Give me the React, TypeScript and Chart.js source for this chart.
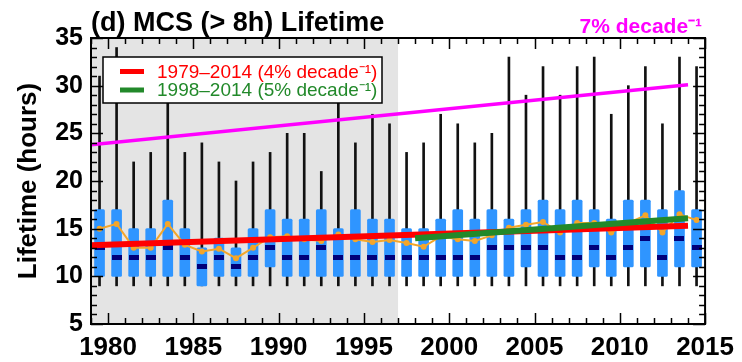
import React, { useEffect, useRef } from 'react';
import { Chart, registerables } from 'chart.js';

Chart.register(...registerables);

// ---- data ----
const years = [1979, 1980, 1981, 1982, 1983, 1984, 1985, 1986, 1987, 1988, 1989, 1990, 1991, 1992, 1993, 1994, 1995, 1996,
  1997, 1998, 1999, 2000, 2001, 2002, 2003, 2004, 2005, 2006, 2007, 2008, 2009, 2010, 2011, 2012, 2013, 2014];
const whiskerLow = [9, 9, 9, 9, 9, 9, 9, 9, 9, 9, 9, 9, 9, 9, 9, 9, 9, 9,
  9, 9, 9, 9, 9, 9, 9, 9, 9, 9, 9, 9, 9, 9, 9, 9, 9, 9];
const whiskerHigh = [31, 34, 22, 23, 31, 23, 24, 22, 20, 22, 23, 25, 25, 21, 31, 24, 27, 26,
  23, 24, 27, 26, 24, 25, 33, 29, 32, 29, 32, 33, 27, 30, 32, 26, 33, 32];
const boxLow = [10, 10, 10, 10, 10, 10, 9, 10, 10, 10, 11, 10, 10, 10, 10, 10, 10, 10,
  10, 10, 10, 10, 10, 10, 10, 11, 10, 10, 10, 11, 10, 11, 11, 10, 11, 11];
const boxHigh = [17, 17, 15, 15, 18, 15, 13, 14, 13, 15, 17, 16, 16, 17, 15, 17, 16, 16,
  15, 15, 16, 17, 16, 17, 16, 17, 18, 17, 18, 17, 16, 18, 18, 17, 19, 17];
const medians = [13, 12, 12, 12, 13, 12, 11, 12, 11, 12, 13, 12, 12, 13, 12, 12, 12, 12,
  12, 12, 12, 12, 12, 13, 13, 13, 13, 12, 12, 13, 12, 13, 14, 12, 14, 13];
const means = [15.0, 15.5, 13.0, 13.0, 15.5, 13.3, 12.6, 12.9, 11.9, 13.0, 14.1, 14.2, 13.9, 13.7, 14.4, 13.9, 13.6, 13.8,
  13.5, 13.1, 14.2, 13.9, 13.7, 14.3, 15.1, 15.4, 15.7, 14.6, 15.6, 15.6, 14.6, 15.6, 16.4, 14.6, 16.5, 15.9];

const trendAllYears = [1979, 2014];
const trendAllValues = [13.25, 15.3];
const trendRecentYears = [1998, 2014];
const trendRecentValues = [14.0, 16.1];
const upperTrendYears = [1979, 2014];
const upperTrendValues = [23.8, 30.1];
const shadeYears = [1979, 1997];

const legendLabels = ['1979\u20132014 (4% decade\u207B\u00B9)', '1998\u20132014 (5% decade\u207B\u00B9)'];
const upperTrendLabel = '7% decade\u207B\u00B9';
const titleText = '(d) MCS (> 8h) Lifetime';
const yAxisTitle = 'Lifetime (hours)';

const xTickValues = [1980, 1985, 1990, 1995, 2000, 2005, 2010, 2015];
const xTickLabels = ['1980', '1985', '1990', '1995', '2000', '2005', '2010', '2015'];
const yTickValues = [5, 10, 15, 20, 25, 30, 35];
const yTickLabels = ['5', '10', '15', '20', '25', '30', '35'];

const X_MIN = 1979;
const X_MAX = 2015;
const Y_MIN = 5;
const Y_MAX = 35;
const BOX_CENTER = 0.5; // each year's box sits in the middle of its year

const FONT = '"Liberation Sans", Arial, Helvetica, sans-serif';
const C_BOX = '#2f95ff';
const C_MED = '#00007a';
const C_MEAN = '#f4a62a';
const C_RED = '#ff0000';
const C_GREEN = '#22892a';
const C_MAGENTA = '#ff00ff';
const C_SHADE = '#e4e4e4';

function makeMedianMark(): HTMLCanvasElement {
  const c = document.createElement('canvas');
  c.width = 10;
  c.height = 5;
  const g = c.getContext('2d')!;
  g.fillStyle = C_MED;
  g.fillRect(0, 0, 10, 5);
  return c;
}

const decorPlugin = {
  id: 'decor',
  beforeDatasetsDraw(chart: any) {
    const { ctx, chartArea: a, scales } = chart;
    const x0 = scales.x.getPixelForValue(shadeYears[0]);
    const x1 = scales.x.getPixelForValue(shadeYears[1]);
    ctx.save();
    ctx.fillStyle = C_SHADE;
    ctx.fillRect(x0, a.top, x1 - x0, a.bottom - a.top);
    ctx.restore();
  },
  afterDraw(chart: any) {
    const { ctx, chartArea: a, scales } = chart;
    const xs = scales.x;
    const ys = scales.y;
    ctx.save();
    // inward ticks
    ctx.strokeStyle = '#000';
    ctx.lineWidth = 1.5;
    ctx.beginPath();
    for (let v = X_MIN; v <= X_MAX; v++) {
      const px = Math.round(xs.getPixelForValue(v)) + 0.5;
      const len = v % 5 === 0 ? 11 : 6;
      ctx.moveTo(px, a.bottom);
      ctx.lineTo(px, a.bottom - len);
      ctx.moveTo(px, a.top);
      ctx.lineTo(px, a.top + len);
    }
    for (let v = Y_MIN; v <= Y_MAX; v++) {
      const py = Math.round(ys.getPixelForValue(v)) + 0.5;
      const len = v % 5 === 0 ? 12 : 6;
      ctx.moveTo(a.left, py);
      ctx.lineTo(a.left + len, py);
      ctx.moveTo(a.right, py);
      ctx.lineTo(a.right - len, py);
    }
    ctx.stroke();
    // frame
    ctx.lineWidth = 2;
    ctx.strokeRect(a.left, a.top, a.right - a.left, a.bottom - a.top);

    // legend box
    const lx = a.left + 12;
    const ly = a.top + 19;
    const lw = 279;
    const lh = 46;
    ctx.fillStyle = '#fff';
    ctx.fillRect(lx, ly, lw, lh);
    ctx.lineWidth = 1.5;
    ctx.strokeStyle = '#000';
    ctx.strokeRect(lx, ly, lw, lh);
    const legendColors = [C_RED, C_GREEN];
    legendLabels.forEach((label, i) => {
      const cy = ly + 14.5 + i * 18.5;
      ctx.fillStyle = legendColors[i];
      ctx.fillRect(lx + 17, cy - 2.5, 24, 5);
      ctx.font = `19px ${FONT}`;
      ctx.textBaseline = 'middle';
      ctx.textAlign = 'left';
      ctx.fillText(label, lx + 54, cy + 1);
    });

    // upper trend label
    ctx.font = `bold 21px ${FONT}`;
    ctx.fillStyle = C_MAGENTA;
    ctx.textAlign = 'right';
    ctx.textBaseline = 'alphabetic';
    ctx.fillText(upperTrendLabel, a.right - 3, 33);
    ctx.restore();
  },
};

export default function App() {
  const ref = useRef<HTMLCanvasElement | null>(null);

  useEffect(() => {
    if (!ref.current) return;
    const medMark = makeMedianMark();
    const boxX = years.map((y) => y + BOX_CENTER);

    const chart = new Chart(ref.current, {
      type: 'bar',
      data: {
        datasets: [
          {
            type: 'bar',
            label: 'range',
            data: boxX.map((x, i) => ({ x, y: [whiskerLow[i], whiskerHigh[i]] })) as any,
            backgroundColor: '#111',
            barThickness: 2,
            grouped: false,
            order: 9,
          } as any,
          {
            type: 'bar',
            label: 'quartiles',
            data: boxX.map((x, i) => ({ x, y: [boxLow[i], boxHigh[i]] })) as any,
            backgroundColor: C_BOX,
            barThickness: 10,
            borderRadius: 1.5,
            borderSkipped: false,
            grouped: false,
            order: 8,
          } as any,
          {
            type: 'line',
            label: 'median',
            data: boxX.map((x, i) => ({ x, y: medians[i] })),
            showLine: false,
            pointStyle: medMark,
            pointRadius: 5,
            order: 7,
          } as any,
          {
            type: 'line',
            label: 'upper trend',
            data: upperTrendYears.map((x, i) => ({ x, y: upperTrendValues[i] })),
            borderColor: C_MAGENTA,
            borderWidth: 3.5,
            pointRadius: 0,
            order: 6,
          },
          {
            type: 'line',
            label: 'mean',
            data: boxX.map((x, i) => ({ x, y: means[i] })),
            borderColor: C_MEAN,
            borderWidth: 2,
            pointRadius: 3,
            pointBackgroundColor: C_MEAN,
            pointBorderWidth: 0,
            order: 5,
          },
          {
            type: 'line',
            label: legendLabels[0],
            data: trendAllYears.map((x, i) => ({ x, y: trendAllValues[i] })),
            borderColor: C_RED,
            borderWidth: 6,
            pointRadius: 0,
            order: 4,
          },
          {
            type: 'line',
            label: legendLabels[1],
            data: trendRecentYears.map((x, i) => ({ x, y: trendRecentValues[i] })),
            borderColor: C_GREEN,
            borderWidth: 6,
            pointRadius: 0,
            order: 3,
          },
        ],
      },
      options: {
        responsive: false,
        animation: false,
        events: [],
        layout: { padding: { left: 0, right: 30, top: 0, bottom: 0 } },
        plugins: {
          legend: { display: false },
          tooltip: { enabled: false },
          title: {
            display: true,
            text: titleText,
            align: 'start',
            fullSize: false,
            color: '#000',
            font: { family: FONT, size: 27, weight: 'bold', lineHeight: 1 },
            padding: { top: 10, bottom: 1 },
          },
        },
        scales: {
          x: {
            type: 'linear',
            min: X_MIN,
            max: X_MAX,
            offset: false,
            grid: { display: false, drawTicks: false },
            border: { display: false },
            afterFit: (s: any) => { s.height = 38; },
            afterBuildTicks: (s: any) => { s.ticks = xTickValues.map((v) => ({ value: v })); },
            ticks: {
              autoSkip: false,
              maxRotation: 0,
              padding: 8,
              color: '#000',
              font: { family: FONT, size: 26, weight: 'bold' },
              callback: (v: any) => xTickLabels[xTickValues.indexOf(Number(v))] ?? '',
            },
          },
          y: {
            type: 'linear',
            min: Y_MIN,
            max: Y_MAX,
            grid: { display: false, drawTicks: false },
            border: { display: false },
            afterFit: (s: any) => { s.width = 91; },
            afterBuildTicks: (s: any) => { s.ticks = yTickValues.map((v) => ({ value: v })); },
            ticks: {
              padding: 8,
              color: '#000',
              font: { family: FONT, size: 25, weight: 'bold' },
              callback: (v: any) => yTickLabels[yTickValues.indexOf(Number(v))] ?? '',
            },
            title: {
              display: true,
              text: yAxisTitle,
              color: '#000',
              font: { family: FONT, size: 26, weight: 'bold' },
              padding: { top: 13, bottom: 0 },
            },
          },
        },
      },
      plugins: [decorPlugin],
    });
    return () => chart.destroy();
  }, []);

  return (
    <div style={{ position: 'fixed', left: 0, top: 0, width: 742, height: 362, background: '#fff' }}>
      <canvas ref={ref} width={742} height={362} />
    </div>
  );
}
